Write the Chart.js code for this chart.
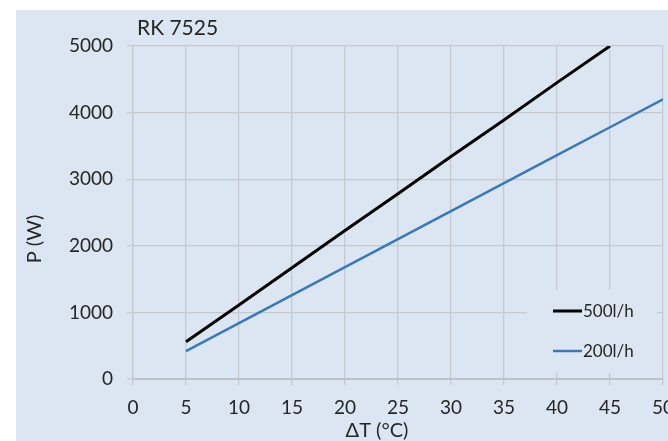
<!DOCTYPE html>
<html>
<head>
<meta charset="utf-8">
<script src="https://cdn.jsdelivr.net/npm/chart.js@4"></script>
<style>
  html, body { margin: 0; padding: 0; background: #fff; overflow: hidden; }
  #wrap { width: 668px; height: 441px; }
</style>
</head>
<body>
<div id="wrap"><canvas id="rkChart" width="668" height="441"></canvas></div>
<script>
// valores
const deltaT500 = [5, 10, 15, 20, 25, 30, 35, 40, 45];
const power500 = [560, 1110, 1670, 2230, 2780, 3340, 3890, 4450, 5000];
const deltaT200 = [5, 10, 15, 20, 25, 30, 35, 40, 45, 50];
const power200 = [420, 840, 1260, 1680, 2100, 2520, 2940, 3360, 3780, 4200];
const seriesNames = ['500l/h', '200l/h'];

const bg = '#dce6f2';
const gridColor = '#c5cad1';
const textColor = '#262626';

const fondo = {
  id: 'fondo',
  beforeDraw(chart) {
    const c = chart.ctx;
    c.save();
    c.fillStyle = '#ffffff';
    c.fillRect(0, 0, chart.width, chart.height);
    c.fillStyle = bg;
    c.fillRect(16, 10, chart.width - 16, chart.height - 10);
    c.restore();
  },
  beforeDatasetsDraw(chart) {
    // leyenda dentro del area, tapa la rejilla
    const c = chart.ctx;
    c.save();
    c.fillStyle = bg;
    c.fillRect(527, 290, 130, 83);
    const cols = ['#000000', '#3a78b8'];
    const ys = [311, 351];
    c.font = '17px Lato';
    c.textBaseline = 'middle';
    for (let i = 0; i < 2; i++) {
      c.strokeStyle = cols[i];
      c.lineWidth = i === 0 ? 3 : 2.5;
      c.beginPath();
      c.moveTo(553, ys[i]);
      c.lineTo(582, ys[i]);
      c.stroke();
      c.fillStyle = textColor;
      c.fillText(seriesNames[i], 583, ys[i] + 1);
    }
    c.restore();
  },
  afterDraw(chart) {
    const c = chart.ctx;
    c.save();
    c.fillStyle = textColor;
    c.font = '21px Lato';
    c.textBaseline = 'middle';
    c.textAlign = 'left';
    c.fillText('RK 7525', 137, 28);
    c.font = '20px Lato';
    c.textAlign = 'center';
    c.fillText('ΔT (°C)', 377, 431);
    c.translate(35, 239);
    c.rotate(-Math.PI / 2);
    c.fillText('P (W)', 0, 0);
    c.restore();
  }
};

const tickFont = { family: 'Lato', size: 19 };

new Chart(document.getElementById('rkChart').getContext('2d'), {
  type: 'line',
  data: {
    datasets: [
      {
        label: seriesNames[0],
        data: deltaT500.map((x, i) => ({ x: x, y: power500[i] })),
        borderColor: '#000000',
        borderWidth: 3,
        pointRadius: 0,
        tension: 0
      },
      {
        label: seriesNames[1],
        data: deltaT200.map((x, i) => ({ x: x, y: power200[i] })),
        borderColor: '#3a78b8',
        borderWidth: 2.5,
        pointRadius: 0,
        tension: 0
      }
    ]
  },
  plugins: [fondo],
  options: {
    responsive: false,
    animation: false,
    layout: { padding: { left: 16, top: 46, right: 5, bottom: 0 } },
    plugins: {
      legend: { display: false },
      tooltip: { enabled: false },
      title: { display: false }
    },
    scales: {
      x: {
        type: 'linear',
        min: 0,
        max: 50,
        ticks: { stepSize: 5, color: textColor, font: tickFont, padding: 11, maxRotation: 0, callback: v => String(v) },
        grid: { color: gridColor, tickLength: 6, lineWidth: 1.3 },
        border: { color: '#bfc3c9', width: 2 },
        afterFit(s) { s.height = 62; s.paddingLeft = 0; s.paddingRight = 0; }
      },
      y: {
        min: 0,
        max: 5000,
        ticks: { stepSize: 1000, color: textColor, font: tickFont, padding: 14, callback: v => String(v) },
        grid: { color: gridColor, tickLength: 6, lineWidth: 1.3 },
        border: { color: gridColor, width: 1.3 },
        afterFit(s) { s.width = 117; s.paddingTop = 0; s.paddingBottom = 0; }
      }
    }
  }
});
</script>
</body>
</html>
